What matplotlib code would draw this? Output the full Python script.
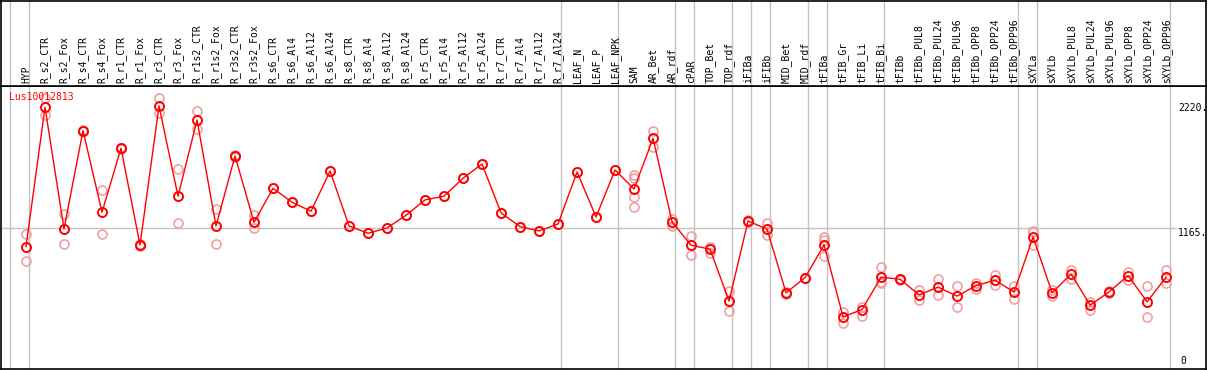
import matplotlib
matplotlib.use("Agg")
import matplotlib.pyplot as plt
import matplotlib.transforms as mtransforms

gene = "Lus10012813"

samples = ["HYP", "R_s2_CTR", "R_s2_Fox", "R_s4_CTR", "R_s4_Fox", "R_r1_CTR", "R_r1_Fox",
           "R_r3_CTR", "R_r3_Fox", "R_r1s2_CTR", "R_r1s2_Fox", "R_r3s2_CTR", "R_r3s2_Fox",
           "R_s6_CTR", "R_s6_Al4", "R_s6_Al12", "R_s6_Al24", "R_s8_CTR", "R_s8_Al4",
           "R_s8_Al12", "R_s8_Al24", "R_r5_CTR", "R_r5_Al4", "R_r5_Al12", "R_r5_Al24",
           "R_r7_CTR", "R_r7_Al4", "R_r7_Al12", "R_r7_Al24", "LEAF_N", "LEAF_P", "LEAF_NPK",
           "SAM", "AR_Bet", "AR_rdf", "cPAR", "TOP_Bet", "TOP_rdf", "iFIBa", "iFIBb",
           "MID_Bet", "MID_rdf", "tFIBa", "tFIB_Gr", "tFIB_Li", "tFIB_Bi", "tFIBb",
           "tFIBb_PUL8", "tFIBb_PUL24", "tFIBb_PUL96", "tFIBb_OPP8", "tFIBb_OPP24",
           "tFIBb_OPP96", "sXYLa", "sXYLb", "sXYLb_PUL8", "sXYLb_PUL24", "sXYLb_PUL96",
           "sXYLb_OPP8", "sXYLb_OPP24", "sXYLb_OPP96"]

means = [1009, 2186, 1159, 1989, 1300, 1840, 1024, 2197, 1435, 2079, 1184, 1775, 1215,
         1502, 1384, 1308, 1648, 1184, 1122, 1167, 1274, 1404, 1435, 1587, 1707,
         1294, 1178, 1142, 1201, 1640, 1260, 1657,
         1496, 1924, 1218, 1021, 988, 549, 1226, 1156,
         619, 748, 1024, 416, 478, 751, 734,
         602, 667, 591, 680, 726, 625, 1091, 619, 779, 515, 627, 765, 543, 751]

replicates = [[1117, 886], [2262, 2121], [1283, 1030], [1995, 1983], [1488, 1117],
              [1846, 1834], [1030, 1018], [2262, 2135], [1663, 1207], [2152, 2000],
              [1325, 1032], [1781, 1769], [1277, 1165],
              [1502], [1384], [1308], [1648], [1184], [1122], [1167], [1274], [1404],
              [1435], [1587], [1707], [1294], [1178], [1142], [1201], [1640], [1260], [1657],
              [1615, 1587, 1426, 1342], [1989, 1853], [1241, 1184], [1100, 937], [1009, 959],
              [638, 464], [1232, 1220], [1207, 1111],
              [625, 613], [748], [1094, 1066, 931], [461, 363], [498, 427], [838, 700, 712],
              [740, 728],
              [644, 560], [734, 605], [678, 498], [706, 655], [773, 686], [678, 571],
              [1145, 1021, 1130], [644, 593], [813, 734], [545, 475], [633, 621],
              [798, 728], [678, 414], [813, 700]]

# group separators sit just right of these sample positions (0 = left edge)
separators = [0, 1, 29, 32, 35, 36, 38, 39, 40, 42, 43, 46, 53, 54, 61]

grid_value = 1165
max_value = 2220

W, H = 1209, 370
fig = plt.figure(figsize=(W / 100, H / 100), dpi=100)
plt.rcParams['font.family'] = ['DejaVu Sans Mono']

left, right = 1 / W, 1206 / W
ax = fig.add_axes([left, 1.5 / H, right - left, (368.5 - 86) / H])
hx = fig.add_axes([left, (H - 86) / H, right - left, 85.5 / H], sharex=ax)

x = list(range(1, len(samples) + 1))
xlim = (-0.316, 63.1)
ax.set_xlim(*xlim)
ax.set_ylim(-20, 2366)
hx.set_ylim(0, 1)

for a in (ax, hx):
    a.set_xticks([])
    a.set_yticks([])
    for s in a.spines.values():
        s.set_color("black")
        s.set_linewidth(1.2)
    for sep in separators:
        a.axvline(sep + 0.18, color="#c4c4c4", lw=1, zorder=0)

ax.hlines(grid_value, xlim[0], 61.6, color="#c4c4c4", lw=1, zorder=0)

# replicate points
for xi, reps in zip(x, replicates):
    ax.plot([xi] * len(reps), reps, "o", ms=6.5, mfc="none", mec="#f0a0a0", mew=1.2, zorder=2)

ax.plot(x, means, "-", color="red", lw=1, zorder=3)
ax.plot(x, means, "o", ms=6.5, mfc="none", mec="red", mew=1.4, zorder=4)

ax.text(0.007, 0.978, gene, transform=ax.transAxes, color="red", fontsize=7, ha="left", va="top")

ax.text(61.63, max_value, "2220.", fontsize=7, ha="left", va="top")
ax.text(61.63, grid_value, "1165.", fontsize=7, ha="left", va="top")
ax.text(61.75, 0, "0", fontsize=7, ha="left", va="bottom")

trans = mtransforms.blended_transform_factory(hx.transData, hx.transAxes)
for xi, name in zip(x, samples):
    hx.text(xi, 0.035, name, rotation=90, fontsize=7, ha="center", va="bottom", transform=trans)

fig.savefig("out.png", dpi=100)
